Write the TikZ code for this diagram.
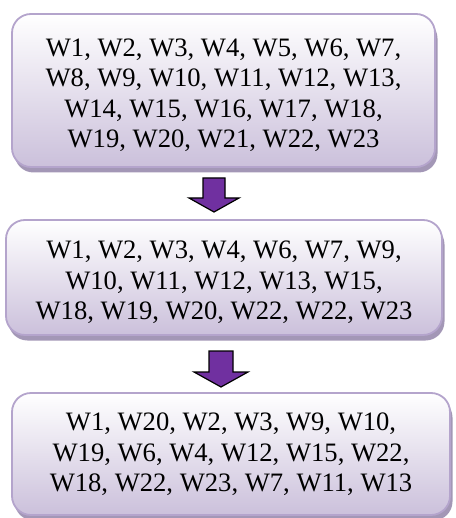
\documentclass[tikz,border=0pt]{standalone}
\usepackage{fontspec}
\setmainfont{Liberation Serif}
\usetikzlibrary{shadows}
\definecolor{boxline}{RGB}{180,164,204}
\definecolor{boxlow}{RGB}{203,192,219}
\definecolor{boxshadow}{RGB}{163,151,182}
\definecolor{arrowfill}{RGB}{112,48,160}
\tikzset{
  listbox/.style={
    draw=boxline, line width=1.8pt, rounded corners=19pt,
    top color=white, bottom color=boxlow,
    drop shadow={shadow xshift=2.5pt, shadow yshift=-5.5pt,
                 fill=boxshadow, opacity=1},
    inner sep=0pt},
  listtext/.style={align=center, inner sep=0pt,
    font=\fontsize{26.6}{30.5}\selectfont},
  blockarrow/.style={draw=black, line width=1.2pt, fill=arrowfill, line join=miter}
}
\begin{document}
\begin{tikzpicture}[x=1pt, y=-1pt]
  \useasboundingbox (0,0) rectangle (455,518);

  % the three boxes
  \node[listbox, minimum width=423pt, minimum height=153pt] (b1) at (223.5,90.5) {};
  \node[listbox, minimum width=436pt, minimum height=115pt] (b2) at (224,277.5) {};
  \node[listbox, minimum width=438pt, minimum height=122pt] (b3) at (231,454) {};

  % the word lists inside them
  \node[listtext] (t1) at ([yshift=-4.5pt]b1.center)
    {W1, W2, W3, W4, W5, W6, W7,\\ W8, W9, W10, W11, W12, W13,\\ W14, W15, W16, W17, W18,\\ W19, W20, W21, W22, W23};
  \node[listtext] (t2) at ([yshift=-5pt]b2.center)
    {W1, W2, W3, W4, W6, W7, W9,\\ W10, W11, W12, W13, W15,\\ W18, W19, W20, W22, W22, W23};
  \node[listtext] (t3) at ([yshift=-0.5pt]b3.center)
    {W1, W20, W2, W3, W9, W10,\\ W19, W6, W4, W12, W15, W22,\\ W18, W22, W23, W7, W11, W13};

  % block arrows between the boxes
  \coordinate (a1) at (214,178);
  \coordinate (a2) at (221,351);
  \draw[blockarrow] (a1) ++(-11,0) -- ++(0,20) -- ++(-14,0) -- ++(25,14)
    -- ++(25,-14) -- ++(-14,0) -- ++(0,-20) -- cycle;
  \draw[blockarrow] (a2) ++(-12,0) -- ++(0,21) -- ++(-15,0) -- ++(27,15)
    -- ++(27,-15) -- ++(-15,0) -- ++(0,-21) -- cycle;
\end{tikzpicture}
\end{document}
